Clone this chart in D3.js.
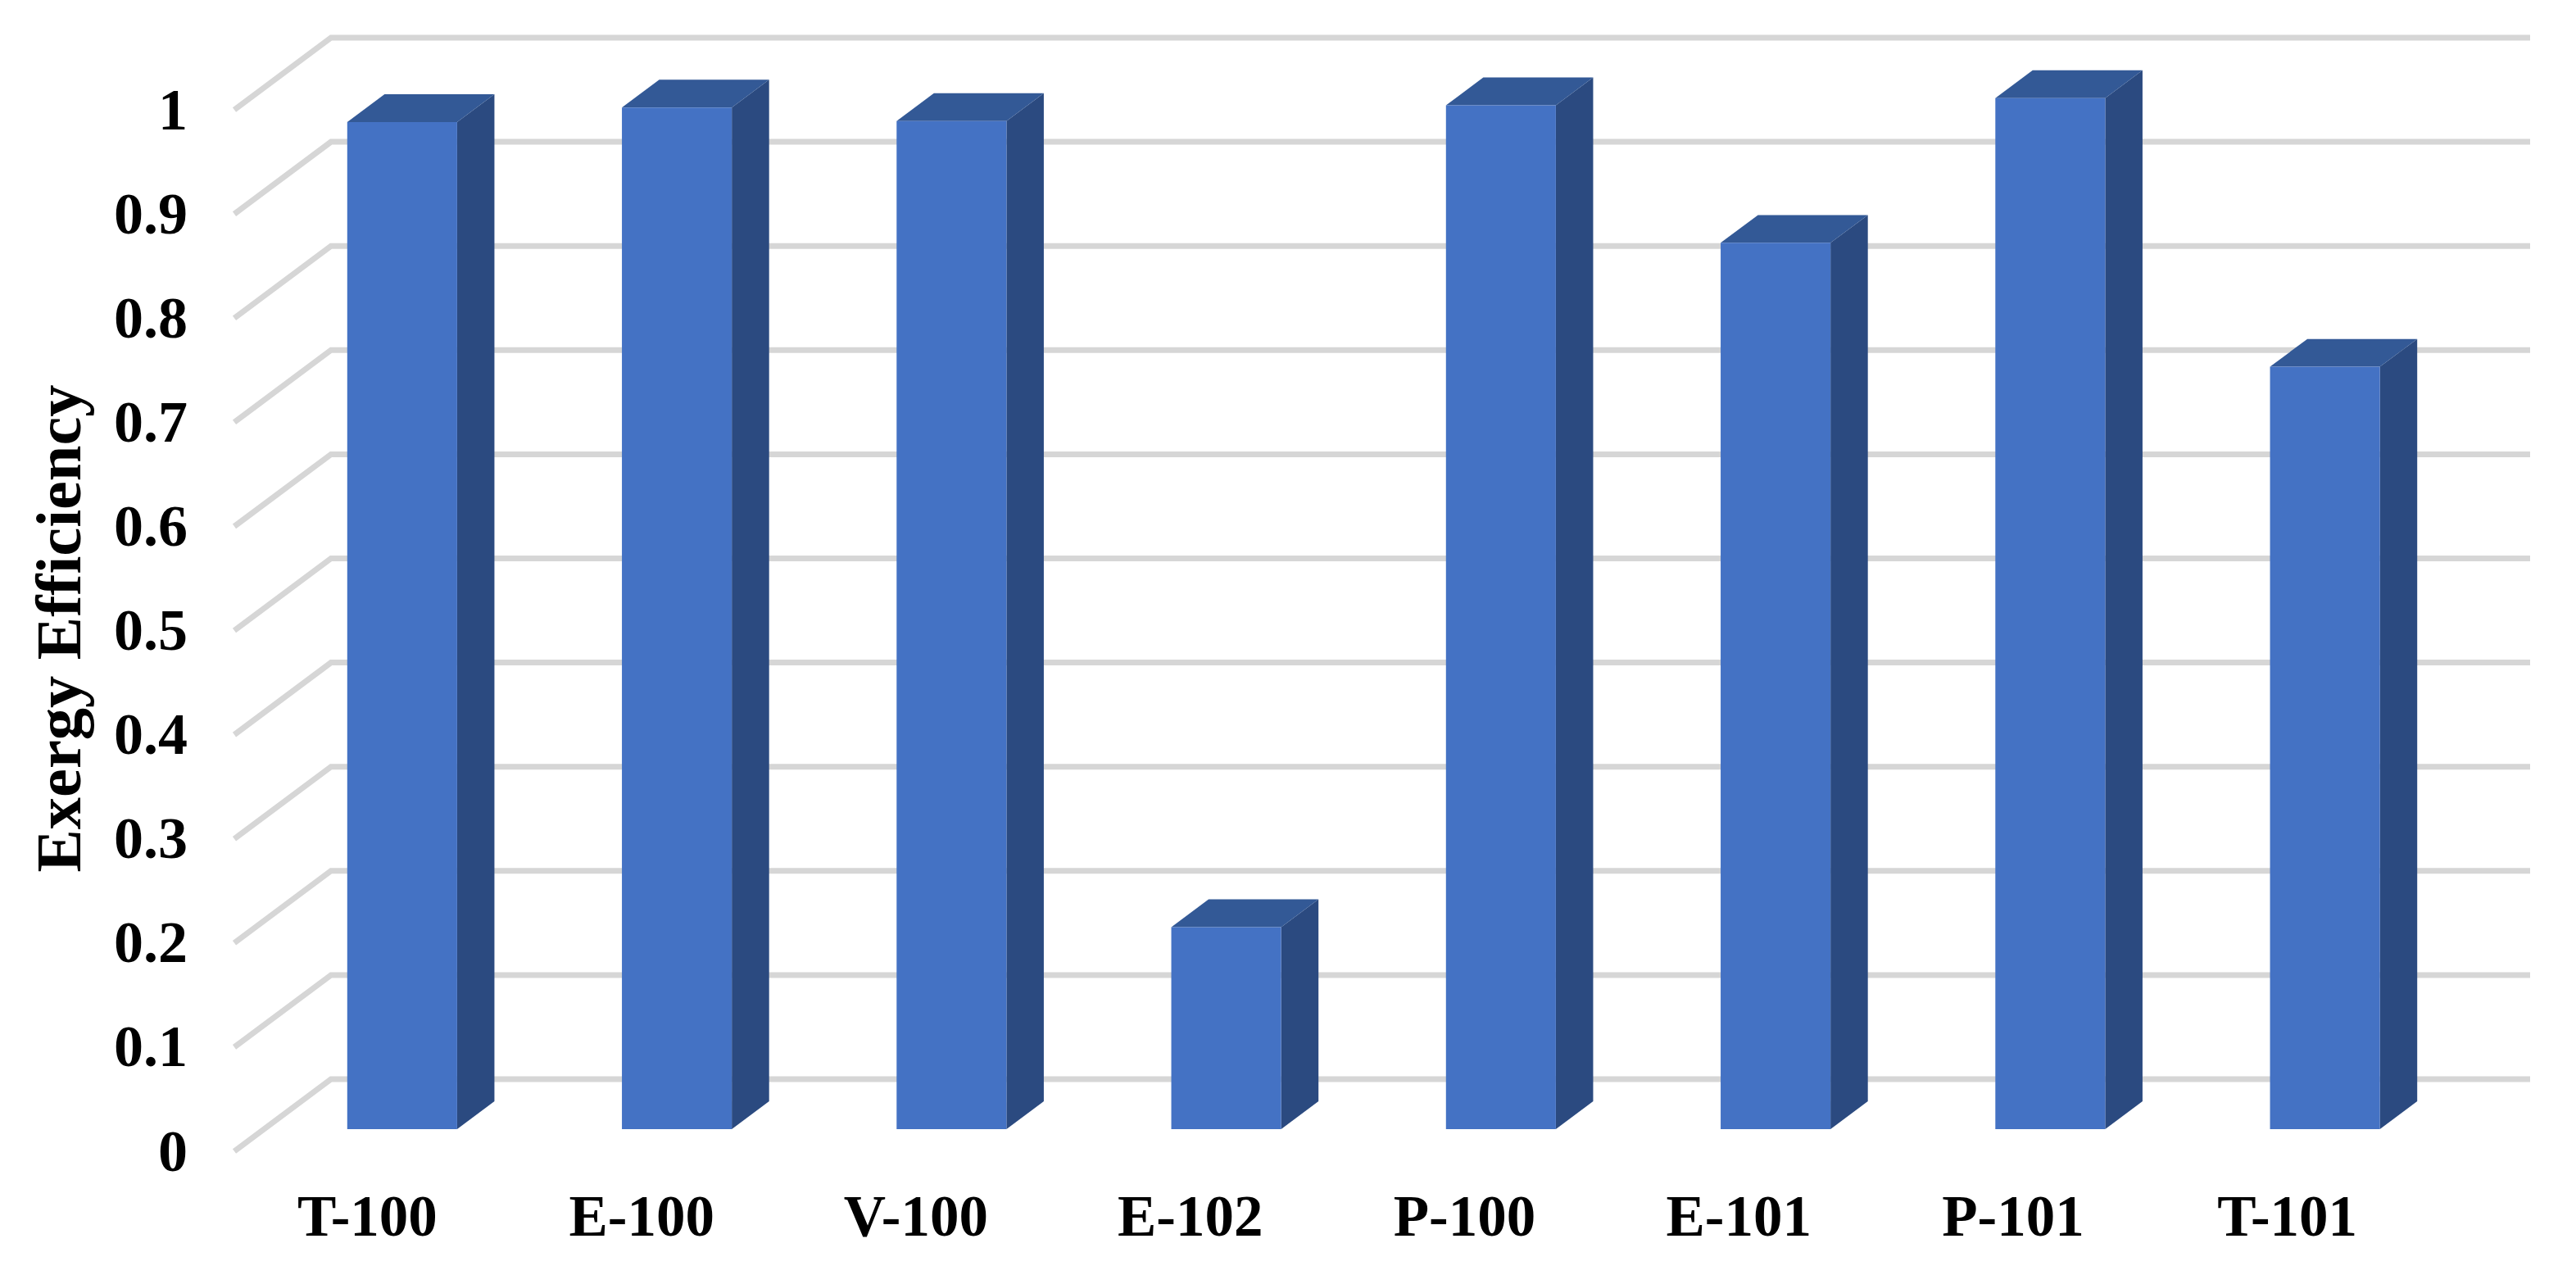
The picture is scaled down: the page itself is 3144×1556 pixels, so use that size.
<!DOCTYPE html>
<html>
<head>
<meta charset="utf-8">
<script src="https://cdnjs.cloudflare.com/ajax/libs/d3/7.8.5/d3.min.js"></script>
<style>
  html, body { margin: 0; padding: 0; background: #fff; }
  svg { display: block; }
  text { font-family: "Liberation Serif", serif; font-weight: bold; fill: #000; }
</style>
</head>
<body>
<div id="chart"></div>
<script>
const categories = ['T-100', 'E-100', 'V-100', 'E-102', 'P-100', 'E-101', 'P-101', 'T-101'];
const efficiency = [0.967, 0.981, 0.968, 0.194, 0.983, 0.851, 0.99, 0.732];
const tickValues = [0, 0.1, 0.2, 0.3, 0.4, 0.5, 0.6, 0.7, 0.8, 0.9, 1];
const yTitle = 'Exergy Efficiency';

const width = 3144, height = 1556;
// front edge of the floor, and how far the back wall is shifted from it
const floor = { left: 286, right: 2970, y: 1405 };
const depth = { dx: 118, dy: -88 };
const barDepth = 0.386;

const svg = d3.select('#chart').append('svg')
  .attr('width', width)
  .attr('height', height);

const x = d3.scaleBand()
  .domain(categories)
  .range([floor.left + 1, floor.right - 1])
  .paddingInner(0.6)
  .paddingOuter(0.3);

// labels run on a slightly tighter step than the bars
const xLabel = d3.scaleBand()
  .domain(categories)
  .range([floor.left - 5, floor.right - 11]);

const y = d3.scaleLinear().domain([0, 1]).range([floor.y, floor.y - 1271]);

// oblique projection, z = 0 is the front and z = 1 the back wall
const px = (xv, z) => xv + depth.dx * z;
const py = (yv, z) => yv + depth.dy * z;
const line = d3.line();
const pt = (xv, v, z) => [px(xv, z), py(y(v), z)];

// gridlines
svg.append('g').selectAll('path')
  .data(tickValues)
  .enter().append('path')
  .attr('d', v => line([pt(floor.left, v, 0), pt(floor.left, v, 1), pt(floor.right, v, 1)]))
  .attr('fill', 'none')
  .attr('stroke', '#d6d6d6')
  .attr('stroke-width', 7);

// bars
const z0 = (1 - barDepth) / 2, z1 = z0 + barDepth;
const bars = svg.append('g').selectAll('g')
  .data(categories.map((c, i) => ({ c, v: efficiency[i] })))
  .enter().append('g');

bars.append('path') // side
  .attr('fill', '#2b4a80')
  .attr('d', d => {
    const r = x(d.c) + x.bandwidth();
    return line([pt(r, 0, z0), pt(r, 0, z1), pt(r, d.v, z1), pt(r, d.v, z0)]) + 'Z';
  });

bars.append('path') // top
  .attr('fill', '#335996')
  .attr('d', d => {
    const l = x(d.c), r = l + x.bandwidth();
    return line([pt(l, d.v, z0), pt(l, d.v, z1), pt(r, d.v, z1), pt(r, d.v, z0)]) + 'Z';
  });

bars.append('path') // front
  .attr('fill', '#4472c4')
  .attr('d', d => {
    const l = x(d.c), r = l + x.bandwidth();
    return line([pt(l, 0, z0), pt(r, 0, z0), pt(r, d.v, z0), pt(l, d.v, z0)]) + 'Z';
  });

// value axis labels
const yAxis = svg.append('g')
  .attr('transform', 'translate(229,0)')
  .call(d3.axisLeft(y).tickValues(tickValues).tickSize(0).tickPadding(0).tickFormat(d3.format('~g')));
yAxis.select('.domain').remove();
yAxis.selectAll('text').attr('font-size', 72).style('font-family', '"Liberation Serif", serif');

// category labels
const xAxis = svg.append('g')
  .attr('transform', 'translate(0,1508)')
  .call(d3.axisBottom(xLabel).tickSize(0).tickPadding(0));
xAxis.select('.domain').remove();
xAxis.selectAll('text').attr('font-size', 71).attr('dy', 0).attr('y', 0)
  .style('font-family', '"Liberation Serif", serif');

svg.append('text')
  .attr('transform', 'translate(98,767) rotate(-90)')
  .attr('text-anchor', 'middle')
  .attr('font-size', 78.5)
  .text(yTitle);
</script>
</body>
</html>
